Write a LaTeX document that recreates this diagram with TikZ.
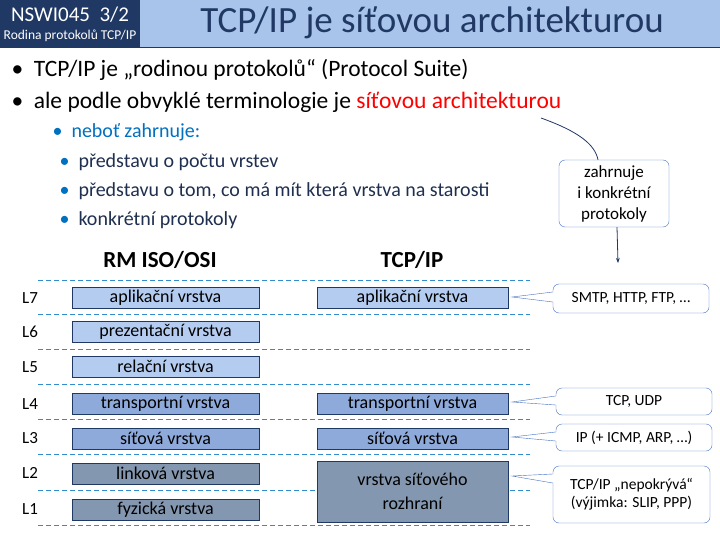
\documentclass[tikz,border=0pt]{standalone}
\usepackage{fontspec}
\setmainfont{Carlito}
\usetikzlibrary{arrows.meta}

\definecolor{navy}{HTML}{1F3864}
\definecolor{headblue}{HTML}{A9C4EB}
\definecolor{textblue}{HTML}{1F2F4F}
\definecolor{linkblue}{HTML}{0070C0}
\definecolor{lightlayer}{HTML}{B4CCF0}
\definecolor{midlayer}{HTML}{8EAADB}
\definecolor{greylayer}{HTML}{8497B0}
\definecolor{callblue}{HTML}{4472C4}

\tikzset{
  layer/.style={draw=navy, minimum width=187pt, minimum height=21pt, font=\fontsize{18}{18}\selectfont, inner sep=0pt},
  callout/.style={draw=callblue, fill=white, rounded corners=6pt, font=\fontsize{15.5}{18}\selectfont, align=center, inner sep=0pt},
  sep/.style={draw=linkblue!80, dashed, dash pattern=on 5pt off 3pt, thick},
}

\begin{document}
\begin{tikzpicture}[x=1pt,y=-1pt]
    \useasboundingbox (0,0) rectangle (720,540);

    % Header
    \fill[headblue] (140,0) rectangle (720,47);
    \fill[navy] (0,0) rectangle (140,47);
    \draw[navy, thick] (0,47) -- (720,47);
    \node[white, font=\fontsize{21}{21}\selectfont] (code) at (70,15) {NSWI045\ \ 3/2};
    \node[white, font=\fontsize{13.5}{13.5}\selectfont] (sub) at (70,36) {Rodina protokolů TCP/IP};
    \node[navy, font=\fontsize{37}{37}\selectfont] (title) at (432,23) {TCP/IP je síťovou architekturou};

    % Bullets
    \node[anchor=west, font=\fontsize{23.5}{23.5}\selectfont] (b1) at (8,70) {•\ \ TCP/IP je „rodinou protokolů“ (Protocol Suite)};
    \node[anchor=west, font=\fontsize{23.5}{23.5}\selectfont] (b2) at (8,102) {•\ \ ale podle obvyklé terminologie je \textcolor{red}{síťovou architekturou}};
    \node[anchor=west, linkblue, font=\fontsize{20}{20}\selectfont] (b3) at (49,132) {•\ \ neboť zahrnuje:};
    \foreach \y/\t [count=\i] in {162/představu o počtu vrstev, 191/představu o tom{,} co má mít která vrstva na starosti, 220/konkrétní protokoly}
        \node[anchor=west, textblue, font=\fontsize{20}{20}\selectfont] (s\i) at (56,\y) {\textcolor{linkblue}{•}\ \ \t};

    % Column heads
    \node[font=\bfseries\fontsize{23}{23}\selectfont] (osi) at (160,260) {RM ISO/OSI};
    \node[font=\bfseries\fontsize{23}{23}\selectfont] (tcpip) at (412,260) {TCP/IP};

    % Separators and level labels
    \foreach \y in {280,314,349,384,419,454,490,525}
        \draw[sep] (38,\y) -- (530,\y);
    \foreach \y/\l in {298/L7,332/L6,367/L5,404/L4,438/L3,473/L2,509/L1}
        \node[font=\fontsize{17}{17}\selectfont] (\l) at (30,\y) {\l};

    % Layers
    \node[layer, fill=lightlayer] (o7) at (165.5,297.5) {aplikační vrstva};
    \node[layer, fill=lightlayer] (o6) at (165.5,331.5) {prezentační vrstva};
    \node[layer, fill=lightlayer] (o5) at (165.5,366.5) {relační vrstva};
    \node[layer, fill=midlayer] (o4) at (165.5,403.5) {transportní vrstva};
    \node[layer, fill=midlayer] (o3) at (165.5,438.5) {síťová vrstva};
    \node[layer, fill=greylayer] (o2) at (165.5,473.5) {linková vrstva};
    \node[layer, fill=greylayer] (o1) at (165.5,509.5) {fyzická vrstva};
    \node[layer, fill=lightlayer, minimum width=191pt] (t7) at (412.5,297.5) {aplikační vrstva};
    \node[layer, fill=midlayer, minimum width=191pt] (t4) at (412.5,403.5) {transportní vrstva};
    \node[layer, fill=midlayer, minimum width=191pt] (t3) at (412.5,438.5) {síťová vrstva};
    \node[layer, fill=greylayer, minimum width=191pt, minimum height=61pt, align=center, font=\fontsize{18}{24}\selectfont] (t2) at (412.5,491.5) {vrstva síťového\\rozhraní};

    % Callouts
    \node[callout, minimum width=156pt, minimum height=29pt] (c7) at (631,298.5) {SMTP, HTTP, FTP, …};
    \node[callout, minimum width=156pt, minimum height=27pt] (c4) at (634,401.5) {TCP, UDP};
    \node[callout, minimum width=156pt, minimum height=27pt] (c3) at (634,437.5) {IP (+ ICMP, ARP, …)};
    \node[callout, minimum width=157pt, minimum height=57pt] (c2) at (631.5,494.5) {TCP/IP „nepokrývá“\\(výjimka: SLIP, PPP)};
    \foreach \c/\ya/\yb/\yt in {c7/292/302/297, c4/396/405/402, c3/432/441/437, c2/474/483/476} {
        \fill[white] ([xshift=1pt]\c.west |- 0,\ya) -- (512,\yt) -- ([xshift=1pt]\c.west |- 0,\yb) -- cycle;
        \draw[callblue] (\c.west |- 0,\ya) -- (512,\yt) -- (\c.west |- 0,\yb);
    }

    \node[callout, minimum width=110pt, minimum height=67pt, font=\fontsize{17}{21}\selectfont] (incl) at (614,193.5) {zahrnuje\\i konkrétní\\protokoly};
    \draw[navy, thick] (541,118) .. controls (580,132) and (595,145) .. (incl.north -| 598,0);
    \draw[navy, thick, -{Stealth[length=5pt]}] (incl.south -| 617,0) -- (618,263);
\end{tikzpicture}
\end{document}
